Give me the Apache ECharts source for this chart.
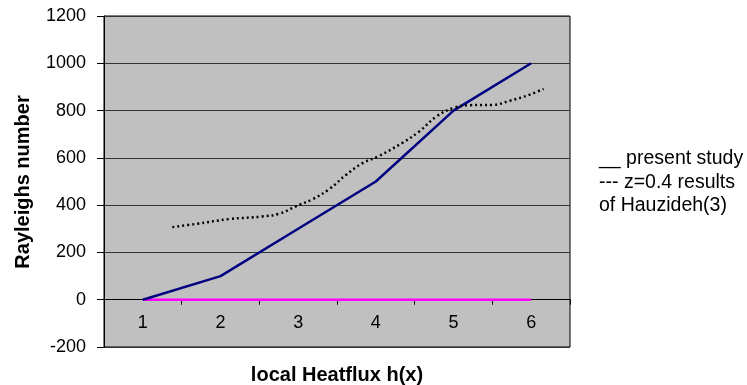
<!DOCTYPE html>
<html>
<head>
<meta charset="utf-8">
<script src="https://cdn.jsdelivr.net/npm/echarts@6/dist/echarts.min.js"></script>
<style>html,body{margin:0;padding:0;background:#fff;}#c{width:747px;height:385px;}</style>
</head>
<body>
<div id="c"></div>
<script>
const categories = ['1', '2', '3', '4', '5', '6'];
const presentStudy = [0, 100, 300, 500, 800, 1000];
const zeroLine = [0, 0, 0, 0, 0, 0];
const hauzX = [1.38, 1.69, 2.11, 2.54, 2.76, 2.97, 3.19, 3.40, 3.62, 3.83, 4.03, 4.35, 4.56, 4.78, 4.99, 5.21, 5.51, 5.72, 5.98, 6.16];
const hauzY = [307, 321, 341, 352, 364, 395, 426, 468, 529, 578, 606, 665, 712, 775, 810, 823, 824, 841, 867, 892];
const yTicks = { min: -200, max: 1200, interval: 200 };
const xTitle = 'local Heatflux h(x)';
const yTitle = 'Rayleighs number';
const legendLines = ['__ present study', '--- z=0.4 results', 'of Hauzideh(3)'];

const font = 'Liberation Sans, Arial, sans-serif';
const chart = echarts.init(document.getElementById('c'), null, { renderer: 'canvas' });
chart.setOption({
  animation: false,
  backgroundColor: '#fff',
  grid: { left: 104, top: 16, right: 177, bottom: 38, outerBoundsMode: 'none', containLabel: false,
    show: true, backgroundColor: '#c0c0c0', borderColor: '#000', borderWidth: 1 },
  xAxis: [{
    type: 'category', data: categories, boundaryGap: true,
    axisLine: { onZero: true, lineStyle: { color: '#000', width: 1 } },
    axisTick: { show: true, length: 5, inside: false, lineStyle: { color: '#000' } },
    axisLabel: { fontFamily: font, fontSize: 18, color: '#000', margin: -33 },
    splitLine: { show: false }
  }, {
    type: 'value', min: 0.5, max: 6.5, show: false
  }],
  yAxis: {
    type: 'value', min: yTicks.min, max: yTicks.max, interval: yTicks.interval,
    axisLine: { show: true, lineStyle: { color: '#000', width: 1 } },
    axisTick: { show: true, length: 7, lineStyle: { color: '#000' } },
    axisLabel: { fontFamily: font, fontSize: 18, color: '#000', margin: 18, formatter: v => String(v) },
    splitLine: { show: true, lineStyle: { color: '#333', width: 1 } }
  },
  graphic: [
    { type: 'text', x: 337, y: 375, style: { text: xTitle, font: 'bold 20px ' + font, fill: '#000', align: 'center', verticalAlign: 'middle' } },
    { type: 'text', x: 23, y: 182, rotation: Math.PI / 2, style: { text: yTitle, font: 'bold 20px ' + font, fill: '#000', align: 'center', verticalAlign: 'middle' } }
  ].concat(legendLines.map((t, i) => ({
    type: 'text', x: 599, y: 159 + i * 23.3,
    style: { text: t, font: '19.5px ' + font, fill: '#000', align: 'left', verticalAlign: 'middle' }
  }))),
  series: [
    { type: 'line', data: zeroLine, symbol: 'none', lineStyle: { color: '#ff00ff', width: 2.5 }, z: 3 },
    { type: 'line', data: presentStudy, symbol: 'none', lineStyle: { color: '#000080', width: 2.5 }, z: 4 },
    { type: 'line', xAxisIndex: 1, data: hauzX.map((x, i) => [x, hauzY[i]]), symbol: 'none', smooth: 0.4,
      lineStyle: { color: '#000', width: 2.5, type: [2, 3] }, z: 5 }
  ]
});
</script>
</body>
</html>
